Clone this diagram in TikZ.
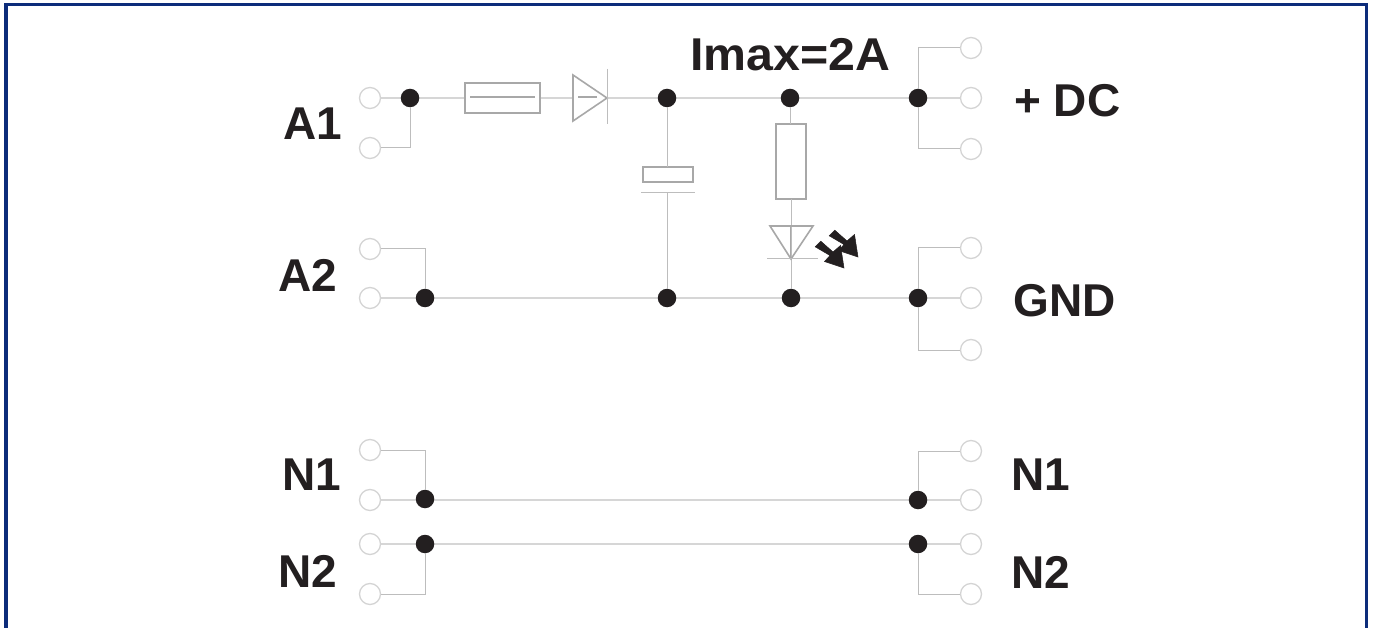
\documentclass[tikz,border=0pt]{standalone}
\usepackage{fontspec}
\setmainfont{Liberation Sans}
\begin{document}
\begin{tikzpicture}[x=1pt,y=-1pt,
  term/.style={circle,draw=termc,line width=1.3pt,fill=white,minimum size=21pt,inner sep=0pt},
  junc/.style={circle,fill=juncc,minimum size=18.5pt,inner sep=0pt},
  wire/.style={draw=wirec,line width=1.8pt},
  thin wire/.style={draw=vwirec,line width=1pt},
  part/.style={draw=partc,line width=1.6pt},
  lab/.style={font=\bfseries\fontsize{46}{46}\selectfont,text=juncc,inner sep=0pt,anchor=west},
  labwide/.style={lab,font=\bfseries\addfontfeature{FakeStretch=1.05}\fontsize{46}{46}\selectfont},
  ray/.style={draw=juncc,fill=juncc,line width=0.5pt,line join=miter}]
\definecolor{termc}{HTML}{D4D4D4}
\definecolor{juncc}{HTML}{231F20}
\definecolor{wirec}{HTML}{D6D6D6}
\definecolor{vwirec}{HTML}{BDBDBD}
\definecolor{partc}{HTML}{A8A8A8}
\definecolor{framec}{HTML}{0C2C7A}
\useasboundingbox (0,0) rectangle (1373,628);
\fill[white] (0,0) rectangle (1373,628);
% frame, open at the bottom
\draw[framec,line width=3.2pt,line join=miter] (6,628) -- (6,4.5) -- (1366.5,4.5) -- (1366.5,628);
% corner coordinates
\coordinate (ca1) at (410,148);
\coordinate (ca2) at (425,249);
\coordinate (cdt) at (918,48);
\coordinate (cdb) at (918,149);
\coordinate (cgt) at (918,248);
\coordinate (cgb) at (918,350);
\coordinate (cn1l) at (425,450);
\coordinate (cn2l) at (425,594);
\coordinate (cn1r) at (918,451);
\coordinate (cn2r) at (918,594);
% parts
\node[part,minimum width=75pt,minimum height=30pt,inner sep=0pt] (fuse) at (502.5,98) {};
\coordinate (dl) at (573,98);
\coordinate (dr) at (607,98);
\node[part,minimum width=50pt,minimum height=15pt,inner sep=0pt] (cap) at (668,174.5) {};
\coordinate (plate) at (667,193);
\node[part,minimum width=30pt,minimum height=75pt,inner sep=0pt] (res) at (791,161.5) {};
\coordinate (ledt) at (791,226);
\coordinate (ledb) at (791,259);
% inner strokes of the parts
\draw[part] (470,97) -- (535,97);
\draw[part] (578,97) -- (597,97);
\draw[part] (ledt) -- (ledb);
% wires
\draw[wire] (370,98) -- (fuse.west);
\draw[wire] (fuse.east) -- (dl);
\draw[wire] (dr) -- (918,98) -- (971,98);
\draw[wire] (370,298) -- (971,298);
\draw[wire] (370,500) -- (971,500);
\draw[wire] (370,544) -- (971,544);
% terminals
\node[term] (t1) at (370,98) {};
\node[term] (t2) at (370,148) {};
\node[term] (t3) at (370,249) {};
\node[term] (t4) at (370,298) {};
\node[term] (t5) at (370,450) {};
\node[term] (t6) at (370,500) {};
\node[term] (t7) at (370,544) {};
\node[term] (t8) at (370,594) {};
\node[term] (r1) at (971,48) {};
\node[term] (r2) at (971,98) {};
\node[term] (r3) at (971,149) {};
\node[term] (r4) at (971,248) {};
\node[term] (r5) at (971,298) {};
\node[term] (r6) at (971,350) {};
\node[term] (r7) at (971,451) {};
\node[term] (r8) at (971,500) {};
\node[term] (r9) at (971,544) {};
\node[term] (r10) at (971,594) {};
% junctions
\node[junc] (j1) at (410,98) {};
\node[junc] (j2) at (667,98) {};
\node[junc] (j3) at (790,98) {};
\node[junc] (j4) at (918,98) {};
\node[junc] (j5) at (425,298) {};
\node[junc] (j6) at (667,298) {};
\node[junc] (j7) at (791,298) {};
\node[junc] (j8) at (918,298) {};
\node[junc] (j9) at (425,499) {};
\node[junc] (j10) at (425,544) {};
\node[junc] (j11) at (918,500) {};
\node[junc] (j12) at (918,544) {};
% thin branches
\draw[thin wire] (j1) -- (ca1) -- (t2);
\draw[thin wire] (j2) -- (667,167);
\draw[thin wire] (plate) -- (j6);
\draw[thin wire] (j3) -- (790,124);
\draw[thin wire] (791,199) -- (j7);
\draw[thin wire] (j5) -- (ca2) -- (t3);
\draw[thin wire] (t5) -- (cn1l) -- (j9);
\draw[thin wire] (j10) -- (cn2l) -- (t8);
\draw[thin wire] (r1) -- (cdt) -- (j4);
\draw[thin wire] (j4) -- (cdb) -- (r3);
\draw[thin wire] (r4) -- (cgt) -- (j8);
\draw[thin wire] (j8) -- (cgb) -- (r6);
\draw[thin wire] (r7) -- (cn1r) -- (j11);
\draw[thin wire] (j12) -- (cn2r) -- (r10);
% diode
\draw[part,line join=miter] (573,75) -- (607,98) -- (573,121) -- cycle;
\draw[thin wire] (607,69) -- (607,124);
\draw[thin wire] (641,193) -- (695,193);
% LED
\draw[part,line join=miter] (770,226) -- (813,226) -- (ledb) -- cycle;
\draw[thin wire] (767,259) -- (818,259);
\draw[ray] (815.2,246.8) -- (820.8,241.2) -- (833,252) -- (840.5,245.5) -- (844,268) -- (824.5,261.5) -- (830,255.5) -- cycle;
\draw[ray] (829.2,235.8) -- (834.8,230.2) -- (847,241) -- (854.5,234.5) -- (858,257) -- (838.5,250.5) -- (844,244.5) -- cycle;
% labels
\node[lab] (la1) at (283,124) {A1};
\node[lab] (la2) at (278,275) {A2};
\node[labwide] (lim) at (690,55) {Imax=2A};
\node[lab] (ldc) at (1014,101) {+ DC};
\node[lab] (lgn) at (1013,301) {GND};
\node[lab] (ln1) at (282,475) {N1};
\node[lab] (ln2) at (278,571.5) {N2};
\node[lab] (rn1) at (1011,475) {N1};
\node[lab] (rn2) at (1011,572) {N2};
\end{tikzpicture}
\end{document}
